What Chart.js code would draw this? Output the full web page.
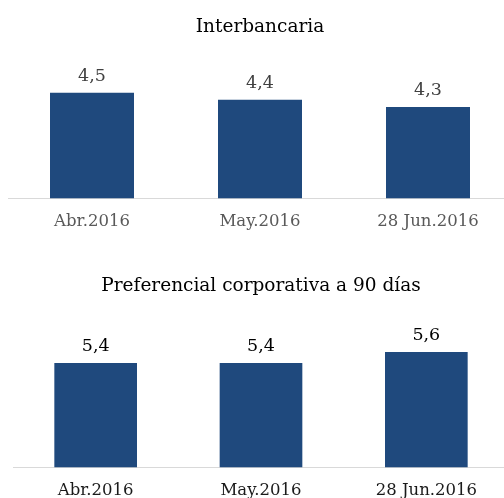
<!DOCTYPE html>
<html>
<head>
<meta charset="utf-8">
<script src="https://cdn.jsdelivr.net/npm/chart.js@4"></script>
<style>
  html, body { margin: 0; padding: 0; background: #fff; overflow: hidden; width: 504px; height: 498px; }
  #top { position: absolute; left: 0; top: 0; width: 512px; height: 250px; }
  #bot { position: absolute; left: 5px; top: 250px; width: 504px; height: 265px; }
</style>
</head>
<body>
<div id="top"><canvas id="c1"></canvas></div>
<div id="bot"><canvas id="c2"></canvas></div>
<script>
const categories = ["Abr.2016", "May.2016", "28 Jun.2016"];
const interbancaria = [4.5, 4.4, 4.3];
const preferencial = [5.4, 5.4, 5.6];
const titles = ["Interbancaria", "Preferencial corporativa a 90 días"];

const FONT = "'DejaVu Serif', 'Liberation Serif', serif";
const BAR = "#1F497D";

const valueLabels = {
  id: 'valueLabels',
  afterDatasetsDraw(chart, args, opts) {
    const ctx = chart.ctx;
    ctx.save();
    ctx.font = opts.size + "px " + FONT;
    ctx.fillStyle = opts.color;
    ctx.textAlign = 'center';
    ctx.textBaseline = 'bottom';
    const meta = chart.getDatasetMeta(0);
    meta.data.forEach((el, i) => {
      const v = chart.data.datasets[0].data[i];
      ctx.fillText(v.toFixed(1).replace('.', ','), el.x, el.y - opts.gap);
    });
    ctx.restore();
  }
};

function makeChart(id, title, data, cfg) {
  return new Chart(document.getElementById(id), {
    type: 'bar',
    data: {
      labels: categories,
      datasets: [{ data: data, backgroundColor: BAR, categoryPercentage: 1, barPercentage: 0.5 }]
    },
    options: {
      responsive: true,
      maintainAspectRatio: false,
      animation: false,
      layout: { padding: { left: cfg.padLeft, right: 0, top: 0, bottom: cfg.padBottom } },
      plugins: {
        legend: { display: false },
        tooltip: { enabled: false },
        title: {
          display: true, text: title, color: '#000',
          font: { family: FONT, size: 18.5, weight: 'normal' },
          padding: { top: cfg.titleTop, bottom: cfg.titleBottom }
        },
        valueLabels: { size: 17.5, color: cfg.valColor, gap: 8 }
      },
      scales: {
        x: {
          grid: { display: false, drawTicks: false },
          border: { display: true, color: '#d9d9d9', width: 1 },
          ticks: { color: cfg.tickColor, padding: cfg.tickPad, font: { family: FONT, size: 16.5 } }
        },
        y: { display: false, min: cfg.min, max: cfg.max }
      }
    },
    plugins: [valueLabels]
  });
}

makeChart('c1', titles[0], interbancaria, {
  min: 3.0, max: 5.0, padLeft: 8, padBottom: 4, titleTop: 16.5, titleBottom: 19,
  tickPad: 14, tickColor: '#595959', valColor: '#404040'
});
makeChart('c2', titles[1], preferencial, {
  min: 3.5, max: 6.0, padLeft: 8, padBottom: 0, titleTop: 25, titleBottom: 33,
  tickPad: 14, tickColor: '#1a1a1a', valColor: '#000'
});
</script>
</body>
</html>
